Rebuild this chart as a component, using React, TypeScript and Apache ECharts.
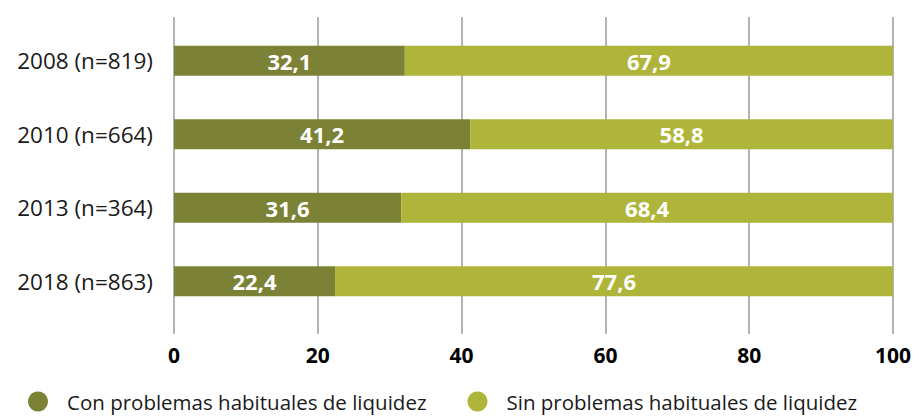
import React, { useEffect, useRef } from "react";
import * as echarts from "echarts";

const categories = ["2008 (n=819)", "2010 (n=664)", "2013 (n=364)", "2018 (n=863)"];
const conProblemas = [32.1, 41.2, 31.6, 22.4];
const sinProblemas = [67.9, 58.8, 68.4, 77.6];
const seriesNames = ["Con problemas habituales de liquidez", "Sin problemas habituales de liquidez"];
const colors = ["#7b8235", "#afb53a"];

const FONT = "'Open Sans', 'Noto Sans', sans-serif";

export default function App() {
  const ref = useRef<HTMLDivElement>(null);
  useEffect(() => {
    if (!ref.current) return;
    const chart = echarts.init(ref.current, undefined, { renderer: "svg" });
    const fmt = (p: any) => String(p.value).replace(".", ",");
    const label = {
      show: true,
      position: "inside" as const,
      color: "#ffffff",
      fontFamily: FONT,
      fontWeight: "bold" as const,
      fontSize: 22,
      formatter: fmt,
    };
    chart.setOption({
      animation: false,
      textStyle: { fontFamily: FONT },
      grid: { left: 174, right: 26, top: 24, bottom: 98, containLabel: false },
      legend: {
        data: seriesNames,
        top: 391,
        left: 28,
        padding: 0,
        icon: "circle",
        itemWidth: 20,
        itemHeight: 20,
        itemGap: 41,
        textStyle: {
          fontFamily: FONT,
          fontSize: 20.5,
          lineHeight: 20,
          color: "#1a1a1a",
          padding: [0, 0, 0, 14],
        },
      },
      xAxis: [
        {
          type: "value",
          min: 0,
          max: 100,
          interval: 20,
          position: "bottom",
          axisLine: { show: false },
          axisTick: { show: true, length: 16, lineStyle: { color: "#9a9a9a", width: 1.5 } },
          splitLine: { show: true, lineStyle: { color: "#9a9a9a", width: 1.5 } },
          axisLabel: {
            margin: 26,
            color: "#000",
            fontFamily: FONT,
            fontWeight: "bold",
            fontSize: 21,
          },
        },
        {
          type: "value",
          min: 0,
          max: 100,
          interval: 20,
          position: "top",
          axisLine: { show: false },
          axisTick: { show: true, length: 7, lineStyle: { color: "#9a9a9a", width: 1.5 } },
          splitLine: { show: false },
          axisLabel: { show: false },
        },
      ],
      yAxis: {
        type: "category",
        data: categories,
        inverse: true,
        axisLine: { show: false },
        axisTick: { show: false },
        axisLabel: {
          margin: 21,
          color: "#1a1a1a",
          fontFamily: FONT,
          fontSize: 22.5,
        },
      },
      series: [
        {
          name: seriesNames[0],
          type: "bar",
          stack: "total",
          data: conProblemas,
          barWidth: 30,
          itemStyle: { color: colors[0] },
          label,
        },
        {
          name: seriesNames[1],
          type: "bar",
          stack: "total",
          data: sinProblemas,
          barWidth: 30,
          itemStyle: { color: colors[1] },
          label,
        },
      ],
    });
    return () => chart.dispose();
  }, []);
  return (
    <div
      ref={ref}
      style={{ position: "absolute", left: 0, top: 0, width: 919, height: 416 }}
    />
  );
}
